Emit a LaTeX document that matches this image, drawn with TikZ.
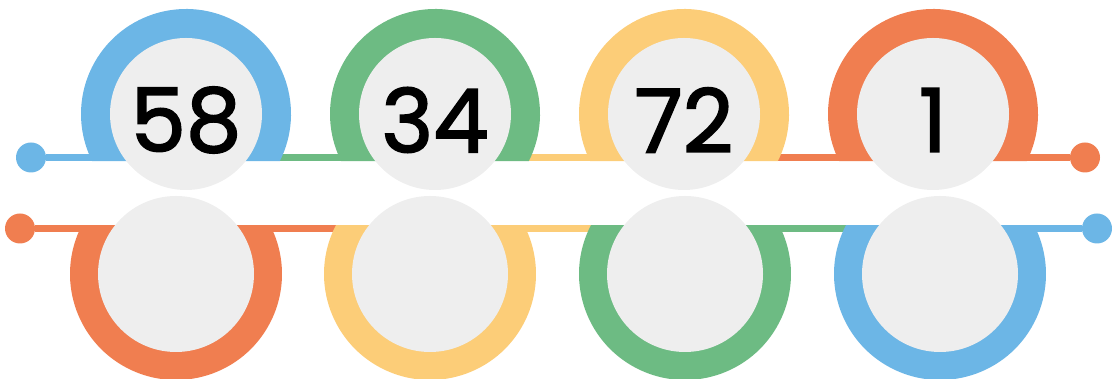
\documentclass[tikz,border=0pt]{standalone}
\usepackage{fontspec}
\setmainfont{Poppins}[FakeBold=2]
\usetikzlibrary{backgrounds}
\definecolor{ringblue}{HTML}{6CB6E6}
\definecolor{ringgreen}{HTML}{6DBB83}
\definecolor{ringyellow}{HTML}{FCCD78}
\definecolor{ringorange}{HTML}{F07E50}
\definecolor{discgray}{HTML}{EEEEEE}

\begin{document}
\begin{tikzpicture}[
    x=1pt, y=1pt,
    disc/.style={circle, fill=discgray, minimum size=152pt, inner sep=0pt},
    lowdisc/.style={disc, minimum size=156pt},
    num/.style={font=\fontsize{88}{88}\selectfont, text=black, inner sep=0pt},
    link/.style={line width=6.5pt},
    knob/.style={circle, minimum size=30pt, inner sep=0pt},
]
    \useasboundingbox (0,0) rectangle (1112,379);

    % Upper row
    \node[disc] (u1) at (186,265) {};
    \node[disc] (u2) at (435,265) {};
    \node[disc] (u3) at (684,265) {};
    \node[disc] (u4) at (933,265) {};

    % Lower row
    \node[lowdisc] (l1) at (176,105) {};
    \node[lowdisc] (l2) at (430,105) {};
    \node[lowdisc] (l3) at (685,105) {};
    \node[lowdisc] (l4) at (940,105) {};

    % Numbers
    \node[num] (n1) at ([yshift=-6pt]u1) {58};
    \node[num] (n2) at ([yshift=-6pt]u2) {34};
    \node[num] (n3) at ([yshift=-6pt]u3) {72};
    \node[num] (n4) at ([yshift=-6pt]u4) {1};

    % End knobs
    \node[knob, fill=ringblue]   (kul) at (31,221.5) {};
    \node[knob, fill=ringorange] (kur) at (1085,221.5) {};
    \node[knob, fill=ringorange] (kll) at (20,150.5) {};
    \node[knob, fill=ringblue]   (klr) at (1097,150.5) {};

    \begin{scope}[on background layer]
        % Links
        \draw[link, ringblue]   (kul) -- (kul -| u1);
        \draw[link, ringgreen]  (kul -| u1) -- (kul -| u2);
        \draw[link, ringyellow] (kul -| u2) -- (kul -| u3);
        \draw[link, ringorange] (kul -| u3) -- (kur);
        \draw[link, ringorange] (kll) -- (kll -| l2);
        \draw[link, ringyellow] (kll -| l2) -- (kll -| l3);
        \draw[link, ringgreen]  (kll -| l3) -- (kll -| l4);
        \draw[link, ringblue]   (kll -| l4) -- (klr);

        % Rings, cut along the links
        \fill[ringblue]   (u1.center) ++(-26.6:105) arc[start angle=-26.6, end angle=206.6, radius=105] -- cycle;
        \fill[ringgreen]  (u2.center) ++(-26.6:105) arc[start angle=-26.6, end angle=206.6, radius=105] -- cycle;
        \fill[ringyellow] (u3.center) ++(-26.6:105) arc[start angle=-26.6, end angle=206.6, radius=105] -- cycle;
        \fill[ringorange] (u4.center) ++(-26.6:105) arc[start angle=-26.6, end angle=206.6, radius=105] -- cycle;
        \fill[ringorange] (l1.center) ++(152.5:106) arc[start angle=152.5, end angle=387.5, radius=106] -- cycle;
        \fill[ringyellow] (l2.center) ++(152.5:106) arc[start angle=152.5, end angle=387.5, radius=106] -- cycle;
        \fill[ringgreen]  (l3.center) ++(152.5:106) arc[start angle=152.5, end angle=387.5, radius=106] -- cycle;
        \fill[ringblue]   (l4.center) ++(152.5:106) arc[start angle=152.5, end angle=387.5, radius=106] -- cycle;
    \end{scope}
\end{tikzpicture}
\end{document}
